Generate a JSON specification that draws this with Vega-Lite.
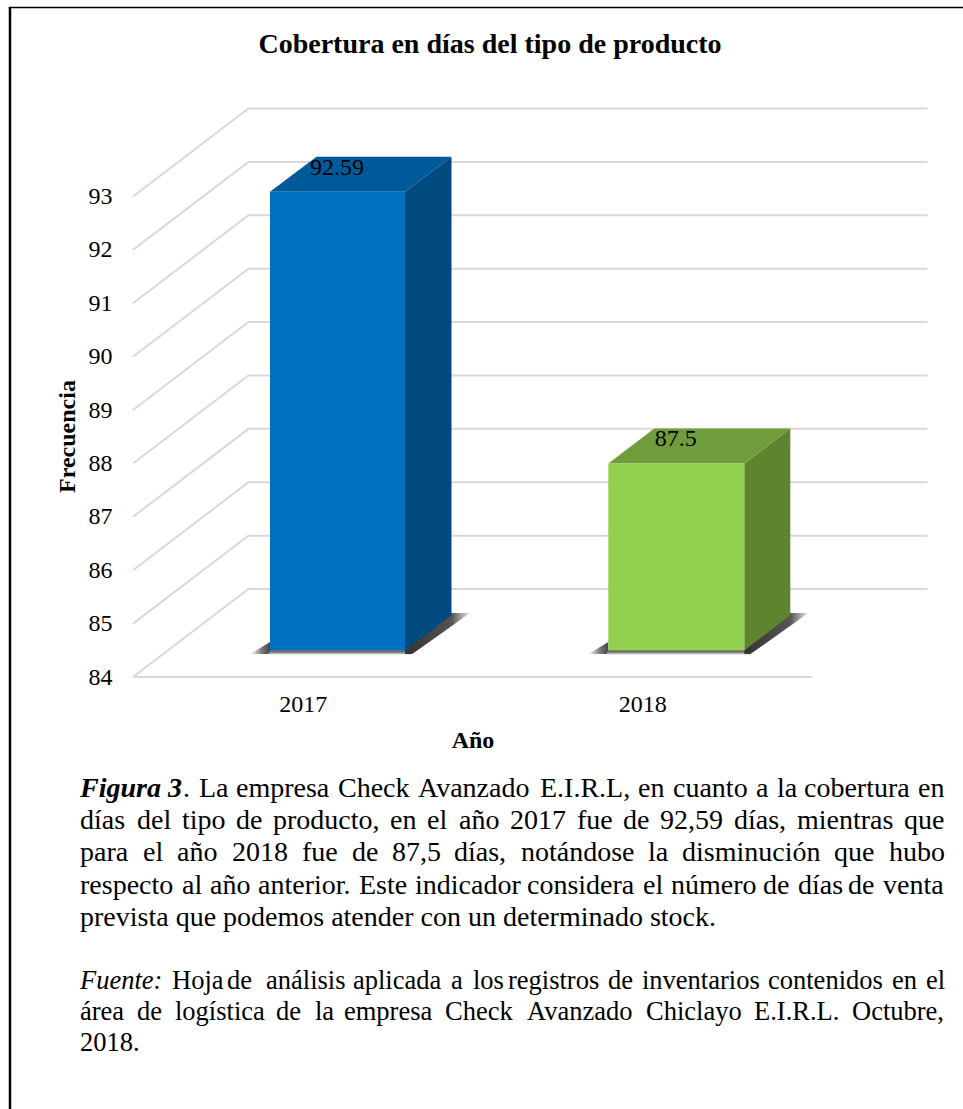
{
"$schema":"https://vega.github.io/schema/vega-lite/v6.json",
"width":963,"height":1109,"padding":0,"autosize":{"type":"none"},"background":"white",
"title":{"text":"Cobertura en días del tipo de producto","font":"Liberation Serif","fontSize":28,"fontWeight":"bold","color":"black","anchor":"middle","frame":"group","baseline":"alphabetic","offset":0,"dx":8.5,"dy":81},
"config":{"view":{"stroke":null}},
"resolve":{"scale":{"x":"independent","y":"independent"}},
"layer":[
{
"encoding":{
"x":{"field":"x","type":"quantitative","scale":{"domain":[2016.1083,2018.9448],"nice":false,"zero":false},
"axis":{"values":[2017,2018],"format":"d","orient":"bottom","offset":-417,"tickSize":0,"labelPadding":0,"domain":false,"grid":false,"labelFont":"Liberation Serif","labelFontSize":24,"labelColor":"black","title":"Año","titleFont":"Liberation Serif","titleFontSize":24,"titleFontWeight":"bold","titleColor":"black","titleX":472.5,"titleY":36}},
"y":{"field":"y","type":"quantitative","scale":{"domain":[75.91,96.68],"nice":false,"zero":false},
"axis":{"values":[84,85,86,87,88,89,90,91,92,93],"format":"d","orient":"left","offset":-112,"tickSize":0,"labelPadding":0,"domain":false,"grid":false,"labelFont":"Liberation Serif","labelFontSize":24,"labelColor":"black","title":"Frecuencia","titleFont":"Liberation Serif","titleFontSize":24,"titleFontWeight":"bold","titleColor":"black","titleX":-33,"titleY":436}}
},
"layer":[
{"mark":{"type":"rule","stroke":"black","strokeWidth":2.5},
"data":{"values":[{"x":2016.1377,"y":96.54,"y2":75.91}]},
"encoding":{"y2":{"field":"y2"}}},
{"mark":{"type":"rule","stroke":"black","strokeWidth":1.5},
"data":{"values":[{"x":2016.1340,"x2":2018.9448,"y":96.54}]},
"encoding":{"x2":{"field":"x2"}}},
{"mark":{"type":"line","stroke":"#d9d9d9","strokeWidth":2,"clip":false},
"data":{"values":[
{"nivel":"84","orden":1,"x":2016.5,"y":84},{"nivel":"84","orden":2,"x":2016.84,"y":85.648},{"nivel":"84","orden":3,"x":2018.84,"y":85.648},
{"nivel":"piso","orden":1,"x":2016.5,"y":84},{"nivel":"piso","orden":2,"x":2018.5,"y":84},
{"nivel":"85","orden":1,"x":2016.5,"y":85},{"nivel":"85","orden":2,"x":2016.84,"y":86.648},{"nivel":"85","orden":3,"x":2018.84,"y":86.648},
{"nivel":"86","orden":1,"x":2016.5,"y":86},{"nivel":"86","orden":2,"x":2016.84,"y":87.648},{"nivel":"86","orden":3,"x":2018.84,"y":87.648},
{"nivel":"87","orden":1,"x":2016.5,"y":87},{"nivel":"87","orden":2,"x":2016.84,"y":88.648},{"nivel":"87","orden":3,"x":2018.84,"y":88.648},
{"nivel":"88","orden":1,"x":2016.5,"y":88},{"nivel":"88","orden":2,"x":2016.84,"y":89.648},{"nivel":"88","orden":3,"x":2018.84,"y":89.648},
{"nivel":"89","orden":1,"x":2016.5,"y":89},{"nivel":"89","orden":2,"x":2016.84,"y":90.648},{"nivel":"89","orden":3,"x":2018.84,"y":90.648},
{"nivel":"90","orden":1,"x":2016.5,"y":90},{"nivel":"90","orden":2,"x":2016.84,"y":91.648},{"nivel":"90","orden":3,"x":2018.84,"y":91.648},
{"nivel":"91","orden":1,"x":2016.5,"y":91},{"nivel":"91","orden":2,"x":2016.84,"y":92.648},{"nivel":"91","orden":3,"x":2018.84,"y":92.648},
{"nivel":"92","orden":1,"x":2016.5,"y":92},{"nivel":"92","orden":2,"x":2016.84,"y":93.648},{"nivel":"92","orden":3,"x":2018.84,"y":93.648},
{"nivel":"93","orden":1,"x":2016.5,"y":93},{"nivel":"93","orden":2,"x":2016.84,"y":94.648},{"nivel":"93","orden":3,"x":2018.84,"y":94.648}
]},
"encoding":{"detail":{"field":"nivel"},"order":{"field":"orden"}}},
{"mark":{"type":"area","fill":{"gradient":"linear","x1":0,"y1":0,"x2":1,"y2":0,"stops":[{"offset":0,"color":"#ffffff"},{"offset":0.6,"color":"#777777"},{"offset":1,"color":"#444444"}]}},
"data":{"values":[
{"anio":2017,"x":2016.8447,"y":84.431,"y2":84.431},{"anio":2017,"x":2016.9036,"y":84.431,"y2":84.656},
{"anio":2018,"x":2017.8411,"y":84.431,"y2":84.431},{"anio":2018,"x":2017.9,"y":84.431,"y2":84.656}
]},
"encoding":{"y2":{"field":"y2"},"detail":{"field":"anio"}}},
{"mark":{"type":"rect","fill":{"gradient":"linear","x1":0,"y1":0,"x2":0,"y2":1,"stops":[{"offset":0,"color":"#444444"},{"offset":0.5,"color":"#888888"},{"offset":1,"color":"#e0e0e0"}]}},
"data":{"values":[
{"x":2016.9,"x2":2017.3219,"y":84.5,"y2":84.42},
{"x":2017.896,"x2":2018.3183,"y":84.5,"y2":84.42}
]},
"encoding":{"x2":{"field":"x2"},"y2":{"field":"y2"}}},
{"mark":{"type":"area","orient":"horizontal","fill":{"gradient":"linear","x1":0,"y1":0,"x2":1,"y2":0,"stops":[{"offset":0,"color":"#333333"},{"offset":0.72,"color":"#555555"},{"offset":1,"color":"#e8e8e8"}]}},
"data":{"values":[
{"anio":2017,"x":2017.4382,"x2":2017.4927,"y":85.199},{"anio":2017,"x":2017.3012,"x2":2017.3395,"y":84.506},{"anio":2017,"x":2017.3012,"x2":2017.3219,"y":84.431},
{"anio":2018,"x":2018.4361,"x2":2018.4891,"y":85.199},{"anio":2018,"x":2018.3006,"x2":2018.3359,"y":84.506},{"anio":2018,"x":2018.3006,"x2":2018.3183,"y":84.431}
]},
"encoding":{"x2":{"field":"x2"},"detail":{"field":"anio"}}},
{"mark":{"type":"area"},
"data":{"values":[
{"cara":"lado 2017","x":2017.3012,"y":93.09,"y2":84.5},{"cara":"lado 2017","x":2017.4382,"y":93.745,"y2":85.155},
{"cara":"lado 2018","x":2018.3006,"y":88,"y2":84.5},{"cara":"lado 2018","x":2018.4361,"y":88.655,"y2":85.155}
]},
"encoding":{"y2":{"field":"y2"},"color":{"field":"cara","type":"nominal","legend":null,"scale":{"domain":["lado 2017","lado 2018","techo 2017","techo 2018","frente 2017","frente 2018"],"range":["#004A80","#5F8430","#005A9A","#6F9D3C","#0070C0","#92D050"]}}}},
{"mark":{"type":"area","orient":"horizontal"},
"data":{"values":[
{"cara":"techo 2017","x":2016.9036,"x2":2017.3012,"y":93.09},{"cara":"techo 2017","x":2017.0406,"x2":2017.4382,"y":93.745},
{"cara":"techo 2018","x":2017.9,"x2":2018.3006,"y":88},{"cara":"techo 2018","x":2018.0355,"x2":2018.4361,"y":88.655}
]},
"encoding":{"x2":{"field":"x2"},"color":{"field":"cara","type":"nominal","legend":null,"scale":{"domain":["lado 2017","lado 2018","techo 2017","techo 2018","frente 2017","frente 2018"],"range":["#004A80","#5F8430","#005A9A","#6F9D3C","#0070C0","#92D050"]}}}},
{"mark":{"type":"rect"},
"data":{"values":[
{"cara":"frente 2017","valor":92.59,"x":2016.9036,"x2":2017.3012,"y":93.09,"y2":84.5},
{"cara":"frente 2018","valor":87.5,"x":2017.9,"x2":2018.3006,"y":88,"y2":84.5}
]},
"encoding":{"x2":{"field":"x2"},"y2":{"field":"y2"},"color":{"field":"cara","type":"nominal","legend":null,"scale":{"domain":["lado 2017","lado 2018","techo 2017","techo 2018","frente 2017","frente 2018"],"range":["#004A80","#5F8430","#005A9A","#6F9D3C","#0070C0","#92D050"]}}}},
{"mark":{"type":"text","font":"Liberation Serif","fontSize":24,"color":"black","align":"center","baseline":"alphabetic"},
"data":{"values":[
{"etiqueta":"92.59","x":2017.1009,"y":93.40},
{"etiqueta":"87.5","x":2018.0986,"y":88.332}
]},
"encoding":{"text":{"field":"etiqueta"}}}
]
},
{
"encoding":{
"x":{"field":"col","type":"quantitative","axis":null,"scale":{"domain":[0,865],"range":[80,945],"nice":false,"zero":false}},
"y":{"field":"renglon","type":"quantitative","axis":null,"scale":{"domain":[1,9],"range":[796.7,1055.5],"nice":false,"zero":false}},
"text":{"field":"t"}
},
"layer":[
{"mark":{"type":"text","font":"Liberation Serif","fontSize":28,"fontWeight":"bold","fontStyle":"italic","color":"black","align":"left","baseline":"alphabetic"},
"data":{"values":[{"t":"Figura 3","col":0,"renglon":1}]}},
{"mark":{"type":"text","font":"Liberation Serif","fontSize":26.5,"fontStyle":"italic","color":"black","align":"left","baseline":"alphabetic"},
"data":{"values":[{"t":"Fuente:","col":0,"renglon":6.935}]}},
{"mark":{"type":"text","font":"Liberation Serif","fontSize":28,"color":"black","align":"left","baseline":"alphabetic"},
"data":{"values":[
{"t":".","col":103,"renglon":1},{"t":"La","col":119,"renglon":1},{"t":"empresa","col":156,"renglon":1},{"t":"Check","col":258,"renglon":1},{"t":"Avanzado","col":338,"renglon":1},{"t":"E.I.R.L,","col":460,"renglon":1},{"t":"en","col":558,"renglon":1},{"t":"cuanto","col":593,"renglon":1},{"t":"a","col":676,"renglon":1},{"t":"la","col":697,"renglon":1},{"t":"cobertura","col":724,"renglon":1},{"t":"en","col":838,"renglon":1},
{"t":"días","col":0,"renglon":2},{"t":"del","col":57,"renglon":2},{"t":"tipo","col":102,"renglon":2},{"t":"de","col":156,"renglon":2},{"t":"producto,","col":193,"renglon":2},{"t":"en","col":310,"renglon":2},{"t":"el","col":347,"renglon":2},{"t":"año","col":379,"renglon":2},{"t":"2017","col":430,"renglon":2},{"t":"fue","col":497,"renglon":2},{"t":"de","col":543,"renglon":2},{"t":"92,59","col":580,"renglon":2},{"t":"días,","col":654,"renglon":2},{"t":"mientras","col":717,"renglon":2},{"t":"que","col":824,"renglon":2},
{"t":"para","col":0,"renglon":3},{"t":"el","col":63,"renglon":3},{"t":"año","col":97,"renglon":3},{"t":"2018","col":152,"renglon":3},{"t":"fue","col":222,"renglon":3},{"t":"de","col":272,"renglon":3},{"t":"87,5","col":312,"renglon":3},{"t":"días,","col":374,"renglon":3},{"t":"notándose","col":441,"renglon":3},{"t":"la","col":568,"renglon":3},{"t":"disminución","col":602,"renglon":3},{"t":"que","col":754,"renglon":3},{"t":"hubo","col":809,"renglon":3},
{"t":"respecto","col":0,"renglon":4},{"t":"al","col":102,"renglon":4},{"t":"año","col":130,"renglon":4},{"t":"anterior.","col":178,"renglon":4},{"t":"Este","col":279,"renglon":4},{"t":"indicador","col":335,"renglon":4},{"t":"considera","col":447,"renglon":4},{"t":"el","col":563,"renglon":4},{"t":"número","col":591,"renglon":4},{"t":"de","col":683,"renglon":4},{"t":"días","col":718,"renglon":4},{"t":"de","col":768,"renglon":4},{"t":"venta","col":803,"renglon":4},
{"t":"prevista que podemos atender con un determinado stock.","col":0,"renglon":5}
]}},
{"mark":{"type":"text","font":"Liberation Serif","fontSize":26.5,"color":"black","align":"left","baseline":"alphabetic"},
"data":{"values":[
{"t":"Hoja","col":92,"renglon":6.935},{"t":"de","col":147,"renglon":6.935},{"t":"análisis","col":186,"renglon":6.935},{"t":"aplicada","col":273,"renglon":6.935},{"t":"a","col":371,"renglon":6.935},{"t":"los","col":393,"renglon":6.935},{"t":"registros","col":428,"renglon":6.935},{"t":"de","col":528,"renglon":6.935},{"t":"inventarios","col":562,"renglon":6.935},{"t":"contenidos","col":688,"renglon":6.935},{"t":"en","col":812,"renglon":6.935},{"t":"el","col":846,"renglon":6.935},
{"t":"área","col":0,"renglon":7.9},{"t":"de","col":57,"renglon":7.9},{"t":"logística","col":95,"renglon":7.9},{"t":"de","col":196,"renglon":7.9},{"t":"la","col":235,"renglon":7.9},{"t":"empresa","col":264,"renglon":7.9},{"t":"Check","col":365,"renglon":7.9},{"t":"Avanzado","col":447,"renglon":7.9},{"t":"Chiclayo","col":566,"renglon":7.9},{"t":"E.I.R.L.","col":674,"renglon":7.9},{"t":"Octubre,","col":772,"renglon":7.9},
{"t":"2018.","col":0,"renglon":8.85}
]}}
]
}
]
}
